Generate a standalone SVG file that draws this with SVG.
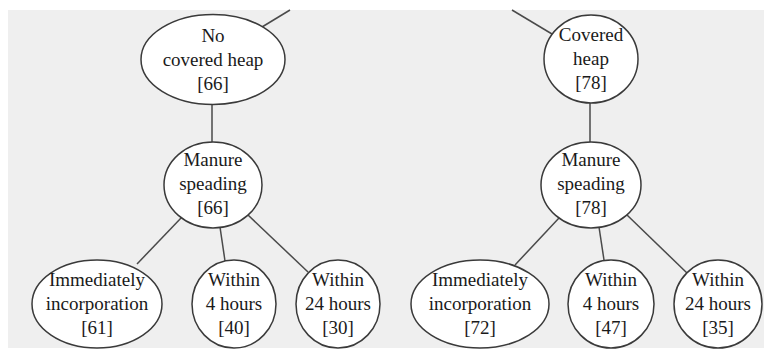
<svg xmlns="http://www.w3.org/2000/svg" width="764" height="350" viewBox="0 0 764 350">
<style>
.n{fill:#ffffff;stroke:#3a3a3a;stroke-width:1.5}
.e{stroke:#4a4a4a;stroke-width:1.5;fill:none}
text{font-size:19px;fill:#1a1a1a;text-anchor:middle}
</style>
<rect x="0" y="0" width="764" height="350" fill="#ffffff"/>
<rect x="8" y="10" width="756" height="338" fill="#efefef"/>
<g id="edges">
<line class="e" x1="290" y1="10" x2="262" y2="27"/>
<line class="e" x1="512" y1="10" x2="552" y2="34"/>
<line class="e" x1="212" y1="104" x2="212" y2="142"/>
<line class="e" x1="590" y1="103" x2="590" y2="142"/>
<line class="e" x1="182" y1="217" x2="137" y2="264"/>
<line class="e" x1="220" y1="227" x2="225" y2="261"/>
<line class="e" x1="248" y1="215" x2="308" y2="272"/>
<line class="e" x1="559" y1="218" x2="515" y2="265"/>
<line class="e" x1="599" y1="227" x2="604" y2="260"/>
<line class="e" x1="627" y1="215" x2="687" y2="273"/>
</g>
<g font-family="'Liberation Serif', 'DejaVu Serif', serif">
<g id="no-covered-heap">
<ellipse class="n" cx="213" cy="59.5" rx="72" ry="45"/>
<text x="213" y="41.5">No</text>
<text x="213" y="65.5">covered heap</text>
<text x="213" y="89.5">[66]</text>
</g>
<g id="covered-heap">
<ellipse class="n" cx="591" cy="59" rx="47" ry="44"/>
<text x="591" y="41">Covered</text>
<text x="591" y="65">heap</text>
<text x="591" y="89">[78]</text>
</g>
<g id="manure-66">
<ellipse class="n" cx="213" cy="185" rx="49" ry="43"/>
<text x="213" y="166">Manure</text>
<text x="213" y="190">speading</text>
<text x="213" y="214">[66]</text>
</g>
<g id="manure-78">
<ellipse class="n" cx="591" cy="185" rx="50" ry="43"/>
<text x="591" y="166">Manure</text>
<text x="591" y="190">speading</text>
<text x="591" y="214">[78]</text>
</g>
<g id="imm-61">
<ellipse class="n" cx="97" cy="304" rx="65" ry="44"/>
<text x="97" y="286">Immediately</text>
<text x="97" y="310">incorporation</text>
<text x="97" y="334">[61]</text>
</g>
<g id="w4-40">
<ellipse class="n" cx="234" cy="304" rx="42" ry="44"/>
<text x="234" y="286">Within</text>
<text x="234" y="310">4 hours</text>
<text x="234" y="334">[40]</text>
</g>
<g id="w24-30">
<ellipse class="n" cx="338" cy="304" rx="42" ry="44"/>
<text x="338" y="286">Within</text>
<text x="338" y="310">24 hours</text>
<text x="338" y="334">[30]</text>
</g>
<g id="imm-72">
<ellipse class="n" cx="480" cy="304" rx="69" ry="44"/>
<text x="480" y="286">Immediately</text>
<text x="480" y="310">incorporation</text>
<text x="480" y="334">[72]</text>
</g>
<g id="w4-47">
<ellipse class="n" cx="611" cy="304" rx="43" ry="44"/>
<text x="611" y="286">Within</text>
<text x="611" y="310">4 hours</text>
<text x="611" y="334">[47]</text>
</g>
<g id="w24-35">
<ellipse class="n" cx="718" cy="304" rx="44" ry="44"/>
<text x="718" y="286">Within</text>
<text x="718" y="310">24 hours</text>
<text x="718" y="334">[35]</text>
</g>
</g>
</svg>
